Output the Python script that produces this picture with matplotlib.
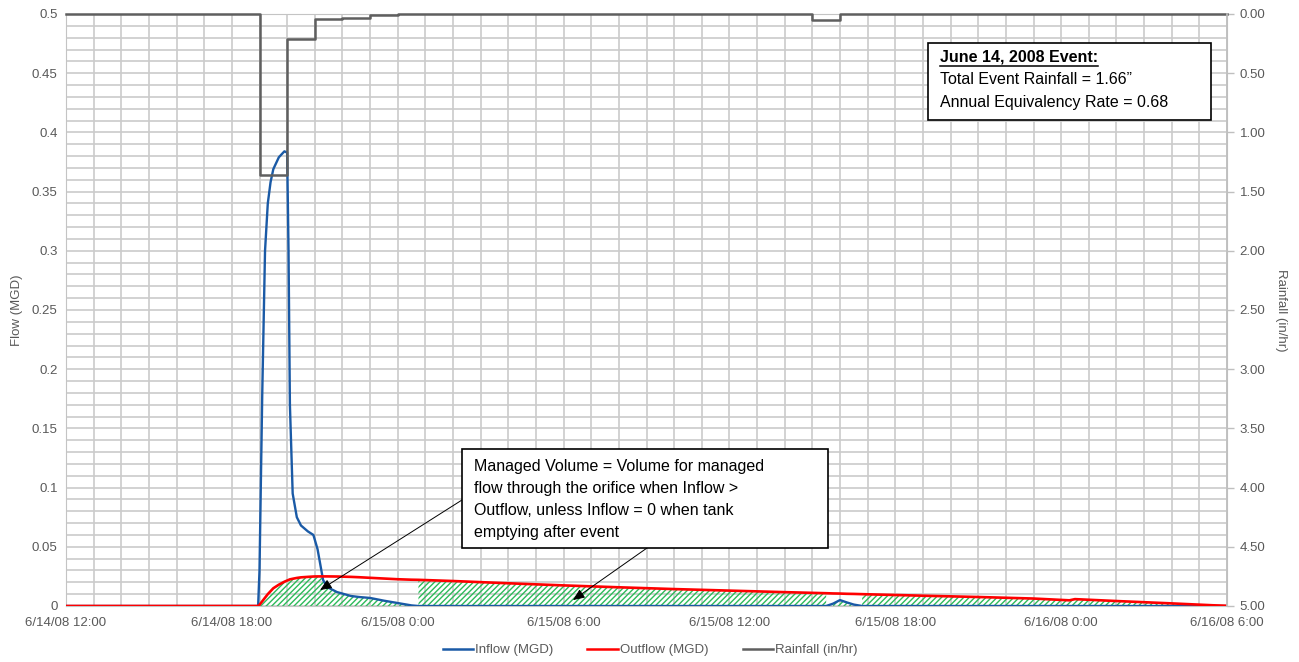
import matplotlib
matplotlib.use("Agg")
import matplotlib.pyplot as plt
import matplotlib.dates as mdates
from matplotlib.ticker import MultipleLocator, FuncFormatter
from matplotlib.patches import Rectangle
from matplotlib.lines import Line2D
from datetime import datetime, timedelta
import numpy as np

plt.rcParams['font.family'] = ['Liberation Sans', 'DejaVu Sans']
plt.rcParams['hatch.linewidth'] = 1.0

# hours after 6/14/08 12:00
hours = [0, 6.95, 7.0, 7.1, 7.2, 7.3, 7.4, 7.5, 7.7, 7.9, 8.0, 8.05, 8.1, 8.2,
         8.35, 8.5, 8.75, 8.95, 9.1, 9.2, 9.3, 9.45, 9.8, 10.3, 10.6, 11.0,
         11.5, 12.0, 12.5, 12.75, 14, 16, 18, 20, 22, 24, 26, 27.5, 27.75,
         28.0, 28.25, 28.5, 28.8, 31, 33, 35, 36.3, 36.5, 38, 40, 41.5, 42]

inflow = [0, 0, 0.03, 0.18, 0.30, 0.340, 0.358, 0.369, 0.379, 0.384, 0.383,
          0.30, 0.17, 0.095, 0.075, 0.068, 0.063, 0.060, 0.048, 0.035, 0.022,
          0.016, 0.0118, 0.0085, 0.0076, 0.0068, 0.0045, 0.0025, 0.0005, 0,
          0, 0, 0, 0, 0, 0, 0, 0, 0.002, 0.005, 0.003, 0.0012, 0,
          0, 0, 0, 0, 0, 0, 0, 0, 0]

outflow = [0, 0, 0.001, 0.004, 0.007, 0.010, 0.0125, 0.015, 0.018, 0.0205,
           0.0215, 0.022, 0.0225, 0.023, 0.0237, 0.0242, 0.0246, 0.0249,
           0.025, 0.025, 0.025, 0.025, 0.0249, 0.0246, 0.0243, 0.0238,
           0.0232, 0.0226, 0.0222, 0.0221, 0.0211, 0.0192, 0.0174, 0.0158,
           0.0143, 0.0130, 0.0117, 0.0108, 0.0106, 0.0105, 0.0103, 0.0102,
           0.0100, 0.0087, 0.0076, 0.0063, 0.0048, 0.0058, 0.0042, 0.0022,
           0.0006, 0.0002]

rain_hours = [0, 7, 8, 9, 10, 11, 12, 27, 28, 42]
rainfall = [0, 1.36, 0.21, 0.04, 0.03, 0.01, 0, 0.05, 0, 0]

event_lines = ["June 14, 2008 Event:",
               "Total Event Rainfall = 1.66\u201d",
               "Annual Equivalency Rate = 0.68"]
note_lines = ["Managed Volume = Volume for managed",
              "flow through the orifice when Inflow >",
              "Outflow, unless Inflow = 0 when tank",
              "emptying after event"]

start = datetime(2008, 6, 14, 12)
t = [start + timedelta(hours=h) for h in hours]
t_rain = [start + timedelta(hours=h) for h in rain_hours]
inflow_a = np.array(inflow)
outflow_a = np.array(outflow)

W, H = 1299, 662
fig = plt.figure(figsize=(W / 100, H / 100), dpi=100)
L, R, T, B = 66, 1227, 14, 606
ax = fig.add_axes([L / W, 1 - B / H, (R - L) / W, (B - T) / H])
ax2 = ax.twinx()

def fx(px):
    return px / W

def fy(py):
    return 1 - py / H

grey = '#595959'
blue = '#1a5aa6'
red = '#ff0000'
hatch_green = '#2dba5a'

# managed volume hatch: outflow while tank empties, else the lesser of the two flows
ax.fill_between(t, 0, outflow_a, where=(inflow_a == 0), facecolor='none',
                edgecolor=hatch_green, hatch='//////', linewidth=0, zorder=2)
ax.fill_between(t, 0, np.minimum(inflow_a, outflow_a), where=(inflow_a > 0),
                facecolor='none', edgecolor=hatch_green, hatch='//////',
                linewidth=0, zorder=2)

ax.plot(t, inflow, color=blue, lw=1.7, zorder=3, label='Inflow (MGD)')
ax.plot(t, outflow, color=red, lw=1.9, zorder=4, label='Outflow (MGD)')
ax2.plot(t_rain, rainfall, color='#5f5f5f', lw=1.8, drawstyle='steps-post',
         label='Rainfall (in/hr)', clip_on=False)

ax.set_xlim(start, start + timedelta(hours=42))
ax.set_ylim(0, 0.5)
ax2.set_ylim(5, 0)

ax.xaxis.set_major_locator(mdates.HourLocator(byhour=range(0, 24, 6)))
ax.xaxis.set_minor_locator(mdates.HourLocator())
ax.xaxis.set_major_formatter(FuncFormatter(
    lambda v, p: (lambda d: f"{d.month}/{d.day}/{d:%y} {d.hour}:{d:%M}")(mdates.num2date(v))))
ax.yaxis.set_major_locator(MultipleLocator(0.05))
ax.yaxis.set_minor_locator(MultipleLocator(0.01))
ax.yaxis.set_major_formatter(FuncFormatter(lambda v, p: f"{round(v, 2):g}"))
ax2.yaxis.set_major_locator(MultipleLocator(0.5))
ax2.yaxis.set_major_formatter(FuncFormatter(lambda v, p: f"{v:.2f}"))

ax.grid(True, which='both', color='#cbcbcb', lw=1.2, zorder=0)
ax.set_axisbelow(True)

ax.tick_params(axis='both', which='both', length=0, labelsize=9.5, colors=grey, pad=6)
ax.tick_params(axis='x', pad=8)
ax2.tick_params(axis='y', length=5, width=1, color='#bfbfbf', labelsize=9.5,
                labelcolor=grey, pad=4)
for s in ax.spines.values():
    s.set_color('#c4c4c4')
for k in ['left', 'top', 'bottom']:
    ax2.spines[k].set_visible(False)
ax2.spines['right'].set_color('#bfbfbf')
ax2.spines['right'].set_linewidth(1.2)

fig.text(fx(17), fy(310), 'Flow (MGD)', rotation=90, ha='center', va='center',
         fontsize=9.5, color=grey)
fig.text(fx(1281), fy(310), 'Rainfall (in/hr)', rotation=270, ha='center',
         va='center', fontsize=9.5, color=grey)

handles = [Line2D([], [], color=blue, lw=1.8), Line2D([], [], color=red, lw=1.8),
           Line2D([], [], color='#5f5f5f', lw=1.8)]
fig.legend(handles, ['Inflow (MGD)', 'Outflow (MGD)', 'Rainfall (in/hr)'],
           loc='center', bbox_to_anchor=(fx(650), fy(650)), ncol=3, frameon=False,
           fontsize=9.5, handlelength=2.3, handletextpad=0.15, columnspacing=2.6,
           labelcolor=grey)

# event summary box
fig.add_artist(Rectangle((fx(928), fy(120)), fx(1211 - 928), (120 - 43) / H,
                         transform=fig.transFigure, facecolor='white',
                         edgecolor='black', lw=1.2, zorder=5))
title_txt = fig.text(fx(940), fy(57), event_lines[0], fontsize=11.5,
                     fontweight='bold', va='center', zorder=6)
for i, line in enumerate(event_lines[1:]):
    fig.text(fx(940), fy(80 + 22 * i), line, fontsize=11.5, va='center', zorder=6)

# note box with arrows
fig.add_artist(Rectangle((fx(462), fy(548)), fx(828 - 462), (548 - 449) / H,
                         transform=fig.transFigure, facecolor='white',
                         edgecolor='black', lw=1.2, zorder=5))
for i, line in enumerate(note_lines):
    fig.text(fx(474), fy(467 + 21.7 * i), line, fontsize=11.5, va='center', zorder=6)

arrow_kw = dict(arrowstyle='-|>,head_length=0.7,head_width=0.3', color='black',
                lw=0.7, shrinkA=0, shrinkB=0)
ax.annotate('', xy=(mdates.date2num(start + timedelta(hours=9.19)), 0.0135),
            xytext=(fx(462), fy(500)), textcoords='figure fraction',
            arrowprops=arrow_kw, zorder=7)
ax.annotate('', xy=(mdates.date2num(start + timedelta(hours=18.34)), 0.005),
            xytext=(fx(647), fy(548)), textcoords='figure fraction',
            arrowprops=arrow_kw, zorder=7)

# underline the event title
fig.canvas.draw()
bb = title_txt.get_window_extent()
fig.add_artist(Line2D([bb.x0 / W, bb.x1 / W], [(bb.y0 - 1) / H, (bb.y0 - 1) / H],
                      transform=fig.transFigure, color='black', lw=1.1, zorder=6))

fig.savefig('out.png', dpi=100)
